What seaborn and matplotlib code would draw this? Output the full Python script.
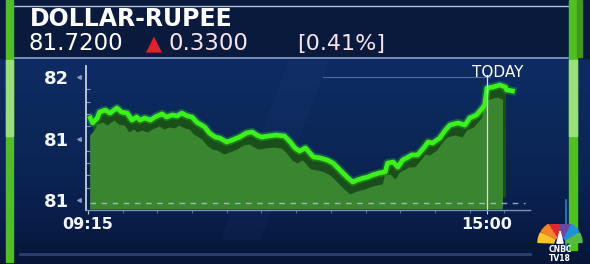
import numpy as np
import pandas as pd
import matplotlib
matplotlib.use("Agg")
import matplotlib.pyplot as plt
import seaborn as sns
from matplotlib import transforms, patches
from matplotlib.ticker import FixedLocator, FuncFormatter
from matplotlib.colors import LinearSegmentedColormap

# ---------------- data ----------------
title = "DOLLAR-RUPEE"
last_price = "81.7200"
change = "0.3300"
pct_change = "[0.41%]"
today_label = "TODAY"

times = ["09:17", "09:19", "09:23", "09:25", "09:30", "09:34", "09:40", "09:44", "09:49", "09:53",
         "09:57", "10:00", "10:04", "10:09", "10:13", "10:19", "10:23", "10:28", "10:32", "10:36",
         "10:41", "10:45", "10:49", "10:56", "11:00", "11:05", "11:09", "11:15", "11:20", "11:26",
         "11:32", "11:37", "11:41", "11:45", "11:51", "11:58", "12:05", "12:10", "12:14", "12:18",
         "12:23", "12:27", "12:30", "12:36", "12:42", "12:47", "12:53", "12:59", "13:04", "13:08",
         "13:13", "13:17", "13:21", "13:27", "13:32", "13:34", "13:39", "13:43", "13:47", "13:52",
         "13:55", "14:00", "14:06", "14:09", "14:13", "14:19", "14:24", "14:28", "14:35", "14:41",
         "14:45", "14:51", "14:56", "14:58", "15:00", "15:05", "15:11", "15:16", "15:17", "15:22"]
rates = [81.550, 81.526, 81.550, 81.579, 81.589, 81.574, 81.599, 81.579, 81.574, 81.540,
         81.555, 81.540, 81.550, 81.540, 81.555, 81.570, 81.555, 81.565, 81.560, 81.574,
         81.560, 81.555, 81.530, 81.506, 81.477, 81.457, 81.452, 81.433, 81.443, 81.457,
         81.477, 81.482, 81.467, 81.457, 81.462, 81.467, 81.462, 81.433, 81.404, 81.389,
         81.404, 81.379, 81.360, 81.355, 81.345, 81.330, 81.296, 81.262, 81.238, 81.248,
         81.257, 81.262, 81.272, 81.282, 81.287, 81.330, 81.335, 81.311, 81.345, 81.360,
         81.370, 81.370, 81.409, 81.433, 81.428, 81.452, 81.491, 81.516, 81.526, 81.516,
         81.550, 81.565, 81.599, 81.613, 81.696, 81.701, 81.711, 81.701, 81.687, 81.682]

ytick_values = [81.15, 81.45, 81.75]
xtick_times = ["09:15", "15:00"]
today_time = "15:00"
baseline_value = 81.135


def to_min(t):
    h, m = map(int, t.split(":"))
    return h * 60 + m - (9 * 60 + 15)


df = pd.DataFrame({"t": [to_min(t) for t in times], "rate": rates})

# ---------------- figure ----------------
W, H = 590, 264
fig = plt.figure(figsize=(W / 100, H / 100), dpi=100)
fig.patch.set_facecolor("#0a1d48")


def px(x0, y0, x1, y1):
    return [x0 / W, 1 - y1 / H, (x1 - x0) / W, (y1 - y0) / H]


bg = fig.add_axes([0, 0, 1, 1])
bg.set_axis_off()
bg.set_xlim(0, W)
bg.set_ylim(H, 0)

grad = np.linspace(0, 1, 256)[:, None]
cm = LinearSegmentedColormap.from_list("bgc", ["#0e2c64", "#0c285a", "#0a2150", "#071638"])
bg.imshow(grad, extent=[0, W, H, 58], cmap=cm, aspect="auto", zorder=0)
# faint light ray
bg.add_patch(patches.Polygon([[290, 58], [330, 58], [260, 240], [220, 240]],
                             closed=True, color="#3a5a9a", alpha=0.07, lw=0, zorder=1))
# header
bg.add_patch(patches.Rectangle((0, 0), W, 58, color="#0a1a3d", zorder=1))
bg.plot([14, 568], [5.5, 5.5], color="#b0c0d8", lw=1.0, zorder=2)
bg.plot([14, 568], [57.5, 57.5], color="#7f98c0", lw=1.3, zorder=2)
# bottom streak
bg.plot([20, 530], [254, 254], color="#4a68a0", lw=2.0, alpha=0.55, zorder=2)
# green side bars
bg.add_patch(patches.Rectangle((6, 0), 7, 262, color="#52be26", zorder=3))
bg.add_patch(patches.Rectangle((6, 60), 7, 76, color="#9adf7c", zorder=3))
bg.add_patch(patches.Rectangle((569, 0), 8, 250, color="#52be26", zorder=3))
bg.add_patch(patches.Rectangle((569, 60), 8, 76, color="#9adf7c", zorder=3))
bg.add_patch(patches.Rectangle((577, 0), 5, 57, color="#3f9a1e", zorder=3))
bg.plot([566, 566], [200, 250], color="#2c7fd0", lw=1.2, zorder=3)

# header texts
bg.text(30, 19, title, fontsize=17, fontweight="bold", color="white",
        ha="left", va="center", zorder=5)
bg.text(29, 44, last_price, fontsize=16.5, color="white", ha="left", va="center", zorder=5)
bg.text(154, 44.5, "\u25B2", fontsize=15, color="#e3202b", ha="center", va="center", zorder=5)
bg.text(168, 44, change, fontsize=16.5, color="#f6e4ea", ha="left", va="center", zorder=5)
bg.text(297, 44, pct_change, fontsize=16, color="#f6e4ea", ha="left", va="center", zorder=5)

# ---------------- chart axes ----------------
ax = fig.add_axes(px(86, 66, 530, 210))
ax.set_facecolor("none")
ax.set_xlim(-1.73, 382.2)
ax.set_ylim(81.1012, 81.8037)

line_color = "#3cf01e"
dark_color = "#1a4f1c"
fill_color = "#3a8530"

sub = df[(df.t >= 4) & (df.t <= 361)]
fill_base = 81.165
ax.fill_between(sub.t, sub.rate, fill_base, color=dark_color, lw=0, zorder=2)
offset = transforms.ScaledTranslation(-0.03, -0.12, fig.dpi_scale_trans)
ax.fill_between(sub.t, sub.rate, fill_base, color=fill_color, lw=0, zorder=3,
                transform=ax.transData + offset)

sns.lineplot(data=df, x="t", y="rate", ax=ax, color=line_color, lw=6, alpha=0.25, zorder=4)
sns.lineplot(data=df, x="t", y="rate", ax=ax, color=line_color, lw=3.4, zorder=5)
ax.set_xlabel("")
ax.set_ylabel("")

# baseline dashed
ax.axhline(baseline_value, xmin=(90 - 86) / 444, xmax=(525 - 86) / 444,
           color="#b4c0d4", lw=1.0, ls=(0, (4, 4)), zorder=6, alpha=0.85)
# faint top gridline
ax.axhline(ytick_values[-1], xmin=0.534, xmax=0.91, color="#4f6a9c", lw=0.8, zorder=1)
# today marker
tx = to_min(today_time)
ax.axvline(tx, ymin=0, ymax=(210 - 75) / 144, color="#d4dce6", lw=0.9, zorder=7)
ax.text(tx + 9.5, 81.774, today_label, fontsize=11, color="white", ha="center",
        va="center", zorder=8)

# spines
for s in ["top", "right"]:
    ax.spines[s].set_visible(False)
ax.spines["left"].set_color("#c4cee0")
ax.spines["left"].set_linewidth(1.3)
ax.spines["bottom"].set_color("#7e90b4")
ax.spines["bottom"].set_linewidth(1.0)

ax.yaxis.set_major_locator(FixedLocator(ytick_values))
ax.yaxis.set_major_formatter(FuncFormatter(lambda v, p: f"{v:.0f}"))
ax.yaxis.set_minor_locator(FixedLocator(np.arange(81.75, 81.10, -0.06)))
ax.tick_params(axis="y", which="major", length=0, pad=12, labelsize=13,
               labelcolor="#f2f5fa")
ax.tick_params(axis="y", which="minor", direction="in", length=3, color="#8a9ac0", width=0.8)
for lbl in ax.get_yticklabels():
    lbl.set_fontweight("bold")
ax.scatter([-0.016] * len(ytick_values), ytick_values, marker="<", s=6, color="#8a9ac0",
           transform=transforms.blended_transform_factory(ax.transAxes, ax.transData),
           clip_on=False, zorder=8)

ax.set_xticks([to_min(t) for t in xtick_times])
ax.set_xticklabels(xtick_times)
ax.xaxis.set_minor_locator(FixedLocator(np.arange(30, 381, 30)))
ax.tick_params(axis="x", which="major", direction="out", length=3, color="#c4cee0",
               pad=2, labelsize=11.5, labelcolor="#f2f5fa")
ax.tick_params(axis="x", which="minor", direction="out", length=2.5, color="#6f82a8")
for lbl in ax.get_xticklabels():
    lbl.set_fontweight("bold")

# ---------------- logo ----------------
lax = fig.add_axes(px(530, 224, 590, 264))
lax.set_axis_off()
lax.set_xlim(-1.25, 1.25)
lax.set_ylim(-0.72, 0.95)
feather_cols = ["#58b947", "#1f8fd6", "#6a4aa0", "#e0262f", "#f2842a", "#fbc52a"]
for i, c in enumerate(feather_cols):
    lax.add_patch(patches.Wedge((0, 0.15), 0.92, i * 30 + 2, (i + 1) * 30 - 2,
                                width=0.66, color=c))
lax.add_patch(patches.Polygon([[-0.13, 0.15], [0.13, 0.15], [0, 0.65]], color="white"))
lax.text(0, -0.13, "CNBC", fontsize=5.5, fontweight="bold", color="white",
         ha="center", va="center")
lax.text(0, -0.48, "TV18", fontsize=5.5, fontweight="bold", color="white",
         ha="center", va="center")

fig.savefig("out.png", dpi=100, facecolor=fig.get_facecolor())
